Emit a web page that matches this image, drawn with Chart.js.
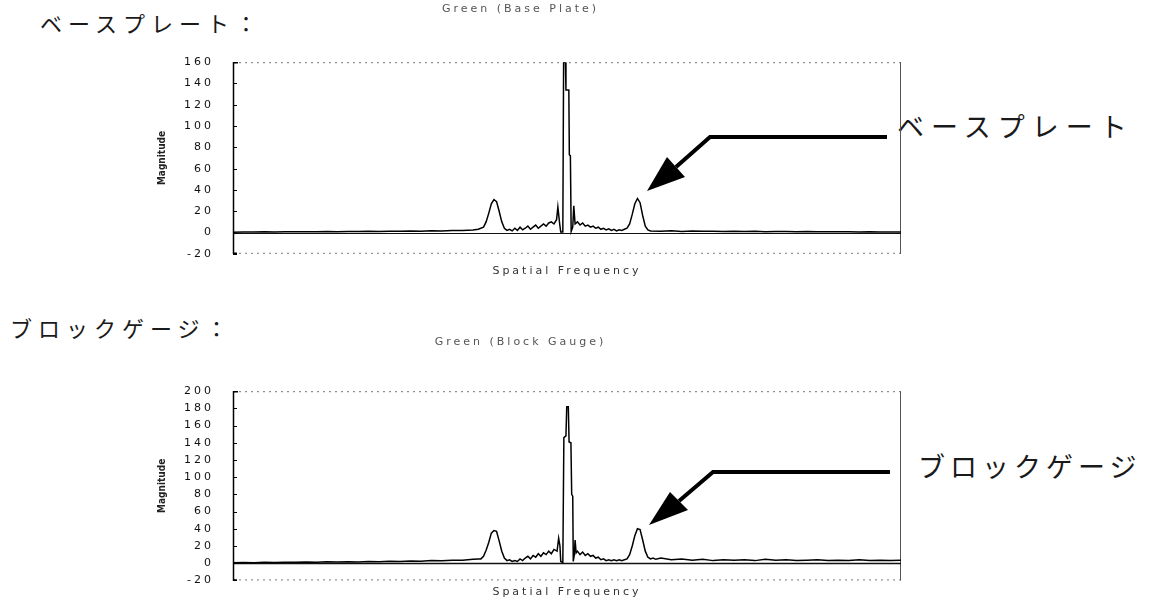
<!DOCTYPE html>
<html>
<head>
<meta charset="utf-8">
<script src="https://cdn.jsdelivr.net/npm/chart.js@4.4.0/dist/chart.umd.min.js"></script>
<style>
  body { margin: 0; background: #fff; width: 1156px; height: 606px; position: relative; overflow: hidden; }
  .wrap { position: absolute; left: 140px; }
  #topWrap { top: 0; }
  #bottomWrap { top: 330px; }
  .jp { position: absolute; color: #1a1a1a; white-space: nowrap; line-height: 1; font-family: "Noto Sans CJK JP", sans-serif; font-weight: 400; }
  .sec { font-size: 22px; letter-spacing: 6px; }
  .tag { font-size: 27px; letter-spacing: 6px; }
  svg { position: absolute; left: 0; top: 0; }
</style>
</head>
<body>
<div class="jp sec" style="left:40px; top:11px;">ベースプレート：</div>
<div class="jp sec" style="left:10px; top:316px;">ブロックゲージ：</div>
<div class="jp tag" style="left:897px; top:112px; letter-spacing:7px;">ベースプレート</div>
<div class="jp tag" style="left:918px; top:452px; letter-spacing:5px;">ブロックゲージ</div>

<div class="wrap" id="topWrap"><canvas id="baseChart" width="770" height="280"></canvas></div>
<div class="wrap" id="bottomWrap"><canvas id="blockChart" width="770" height="276"></canvas></div>

<svg width="1156" height="606">
  <g stroke="#000" stroke-width="4" fill="none" stroke-linejoin="miter">
    <polyline points="887,137 710,137 676,167"/>
    <polyline points="890,472 713,472 679,501"/>
  </g>
  <g fill="#000">
    <polygon points="647,191 667,157 685,177"/>
    <polygon points="649,525 670,492 688,510"/>
  </g>
</svg>

<script>
// spectrum of the base plate
const freqBase = [0, 4, 8, 12, 16, 20, 24, 28, 32, 36, 40, 44, 48, 52, 56, 60, 64, 68, 72, 76, 80, 84, 88, 92,
  94, 96, 97, 98, 99, 100, 101, 102, 103, 104, 105,
  106, 107, 108, 109, 110, 111, 112, 113, 114, 115, 116, 117, 118, 119, 120, 121, 122, 123, 124,
  124.5, 125.2, 125.6,
  126.4, 126.7, 127.4, 127.6, 128.7, 128.9, 129.3, 129.6,
  130.2, 130.6, 131.1,
  132, 133, 134, 135, 136, 137, 138, 139, 140, 141, 142, 143, 144, 145, 146, 147, 148, 149, 150,
  151, 152, 153, 154, 155, 156, 157, 158, 159, 160,
  164, 168, 172, 176, 180, 184, 188, 192, 196, 200, 204, 208, 212, 216, 220, 224, 228, 232, 236, 240, 244, 248, 252, 256];
const magBase = [0.3, 0.5, 0.4, 0.6, 0.5, 0.7, 0.6, 0.8, 0.7, 0.9, 0.8, 1.0, 0.9, 1.1, 1.0, 1.3, 1.1, 1.4, 1.2, 1.6, 1.4, 1.8, 2.0, 2.4,
  3, 5, 10, 18, 27, 31, 29, 20, 10, 4, 2,
  3, 1.5, 4, 2, 5, 2.5, 4, 6, 3, 5, 7, 4, 6, 8, 6, 9, 10, 8, 12,
  24, 8, 0.5,
  0.5, 160, 160, 134, 134, 73, 72, 1,
  5, 25, 8,
  10, 7, 9, 6, 7, 5, 6, 4, 5, 3, 4, 2.5, 3.5, 2, 3, 1.5, 2.5, 2, 3,
  4, 8, 17, 27, 32, 28, 16, 6, 2.5, 1.5,
  1.2, 1.6, 1.0, 1.4, 1.1, 1.3, 0.9, 1.2, 1.0, 1.1, 0.8, 1.0, 0.9, 0.7, 0.9, 0.6, 0.8, 0.6, 0.7, 0.5, 0.6, 0.4, 0.5, 0.4];

// spectrum of the block gauge
const freqBlock = [0, 4, 8, 12, 16, 20, 24, 28, 32, 36, 40, 44, 48, 52, 56, 60, 64, 68, 72, 76, 80, 84, 88, 92,
  94, 95, 96, 97, 98, 99, 100, 101, 102, 103, 104, 105,
  106, 107, 108, 109, 110, 111, 112, 113, 114, 115, 116, 117, 118, 119, 120, 121, 122, 123,
  124.2, 124.8, 125.3, 125.6,
  126.4, 126.8, 127.6, 127.9, 128.5, 128.8, 129.5, 129.8, 130.2, 130.4,
  130.8, 131.1, 131.5,
  132, 133, 134, 135, 136, 137, 138, 139, 140, 141, 142, 143, 144, 145, 146, 147, 148, 149, 150,
  151, 152, 153, 154, 155, 156, 157, 158, 159, 160,
  161, 162,
  164, 168, 172, 176, 180, 184, 188, 192, 196, 200, 204, 208, 212, 216, 220, 224, 228, 232, 236, 240, 244, 248, 252, 256];
const magBlock = [0.5, 0.8, 0.6, 1.0, 0.8, 1.2, 1.0, 1.4, 1.2, 1.6, 1.3, 1.8, 1.5, 2.0, 1.8, 2.3, 2.0, 2.6, 2.4, 3.0, 2.8, 3.4, 3.5, 4.5,
  5, 5, 8, 15, 24, 35, 38, 37, 26, 14, 6, 3,
  4, 2, 3, 2, 5, 3, 6, 8, 5, 9, 7, 11, 8, 12, 10, 14, 11, 16,
  14, 29, 20, 2,
  1, 146, 148, 182, 182, 141, 140, 80, 78, 2,
  10, 27, 12,
  14, 10, 13, 9, 11, 8, 9, 6, 7, 4, 5, 3, 4, 3, 4, 3, 4, 3, 4,
  5, 10, 20, 32, 40, 39, 27, 14, 7, 5,
  6, 4.5,
  6, 4, 5, 3.5, 4.5, 3, 4, 3.5, 4, 3, 4.5, 3.5, 4, 3, 3.5, 4, 3, 3.5, 3, 4, 3, 3.5, 3, 3.5];

const axisName = 'Magnitude';
const freqName = 'Spatial Frequency';

// wide letter spacing for ticks and titles
const spacing = {
  id: 'spacing',
  beforeUpdate(chart) { chart.ctx.letterSpacing = '3px'; },
  beforeDraw(chart) { chart.ctx.letterSpacing = '3px'; }
};

// plot frame: solid left axis with inner ticks, dotted top/bottom, zero line
const frame = {
  id: 'frame',
  beforeDatasetsDraw(chart, args, opts) {
    const { ctx, chartArea: a, scales: { y } } = chart;
    ctx.save();
    ctx.letterSpacing = '0px';

    ctx.strokeStyle = '#777';
    ctx.lineWidth = 1;
    ctx.setLineDash([2, 4]);
    ctx.beginPath();
    ctx.moveTo(a.left, a.top + 0.5); ctx.lineTo(a.right, a.top + 0.5);
    ctx.moveTo(a.left, a.bottom - 0.5); ctx.lineTo(a.right, a.bottom - 0.5);
    ctx.stroke();
    ctx.setLineDash([]);

    ctx.strokeStyle = '#555';
    ctx.beginPath();
    ctx.moveTo(a.right - 0.5, a.top); ctx.lineTo(a.right - 0.5, a.bottom);
    ctx.stroke();

    const y0 = Math.round(y.getPixelForValue(0)) + 0.5;
    ctx.strokeStyle = '#111';
    ctx.lineWidth = opts.zeroWidth;
    ctx.beginPath();
    ctx.moveTo(a.left, y0); ctx.lineTo(a.right, y0);
    ctx.stroke();

    ctx.strokeStyle = '#000';
    ctx.lineWidth = 1.5;
    ctx.beginPath();
    ctx.moveTo(a.left + 5, a.top + 0.5);
    ctx.lineTo(a.left + 0.5, a.top + 0.5);
    ctx.lineTo(a.left + 0.5, a.bottom - 0.5);
    ctx.lineTo(a.left + 4, a.bottom - 0.5);
    ctx.stroke();
    ctx.lineWidth = 1;
    ctx.beginPath();
    y.ticks.forEach(t => {
      const py = Math.round(y.getPixelForValue(t.value)) + 0.5;
      ctx.moveTo(a.left, py); ctx.lineTo(a.left + 4, py);
    });
    ctx.stroke();
    ctx.restore();
  },
  afterDraw(chart, args, opts) {
    const { ctx, chartArea: a } = chart;
    ctx.save();
    ctx.letterSpacing = '0px';
    ctx.font = 'bold 10px "DejaVu Sans Condensed", "DejaVu Sans"';
    ctx.fillStyle = '#222';
    ctx.translate(opts.nameX, (a.top + a.bottom) / 2);
    ctx.rotate(-Math.PI / 2);
    ctx.textAlign = 'center';
    ctx.textBaseline = 'middle';
    ctx.fillText(axisName, 0, 0);
    ctx.restore();
  }
};

function makeChart(id, titleText, freq, mag, yMax, pad) {
  const points = freq.map((f, i) => ({ x: f, y: mag[i] }));
  const ctx = document.getElementById(id).getContext('2d');
  return new Chart(ctx, {
    type: 'line',
    data: {
      datasets: [{
        data: points,
        borderColor: '#000',
        borderWidth: 1.5,
        pointRadius: 0,
        tension: 0,
        fill: false
      }]
    },
    options: {
      responsive: false,
      animation: false,
      layout: { padding: { right: 9 } },
      plugins: {
        legend: { display: false },
        tooltip: { enabled: false },
        title: {
          display: true,
          text: titleText,
          color: '#555',
          font: { family: 'DejaVu Sans', size: 11, weight: 'normal' },
          padding: { top: pad.titleTop, bottom: pad.titleBottom }
        },
        frame: { zeroWidth: pad.zeroWidth, nameX: 22 }
      },
      scales: {
        x: {
          type: 'linear',
          min: 0,
          max: 256,
          ticks: { display: false },
          grid: { display: false, drawTicks: false },
          border: { display: false },
          title: {
            display: true,
            text: freqName,
            color: '#333',
            font: { family: 'DejaVu Sans', size: 11 },
            padding: { top: pad.xTop, bottom: pad.xBottom }
          }
        },
        y: {
          min: -20,
          max: yMax,
          ticks: {
            stepSize: 20,
            color: '#111',
            font: { family: 'DejaVu Sans', size: 11 },
            padding: 19
          },
          grid: { display: false, drawTicks: false },
          border: { display: false },
          afterFit(scale) { scale.width = 93; }
        }
      }
    },
    plugins: [spacing, frame]
  });
}

makeChart('baseChart', 'Green (Base Plate)', freqBase, magBase, 160,
  { titleTop: 3, titleBottom: 46, xTop: 11, xBottom: 2, zeroWidth: 1 });
makeChart('blockChart', 'Green (Block Gauge)', freqBlock, magBlock, 200,
  { titleTop: 6, titleBottom: 42, xTop: 5, xBottom: 2, zeroWidth: 1.5 });
</script>
</body>
</html>
